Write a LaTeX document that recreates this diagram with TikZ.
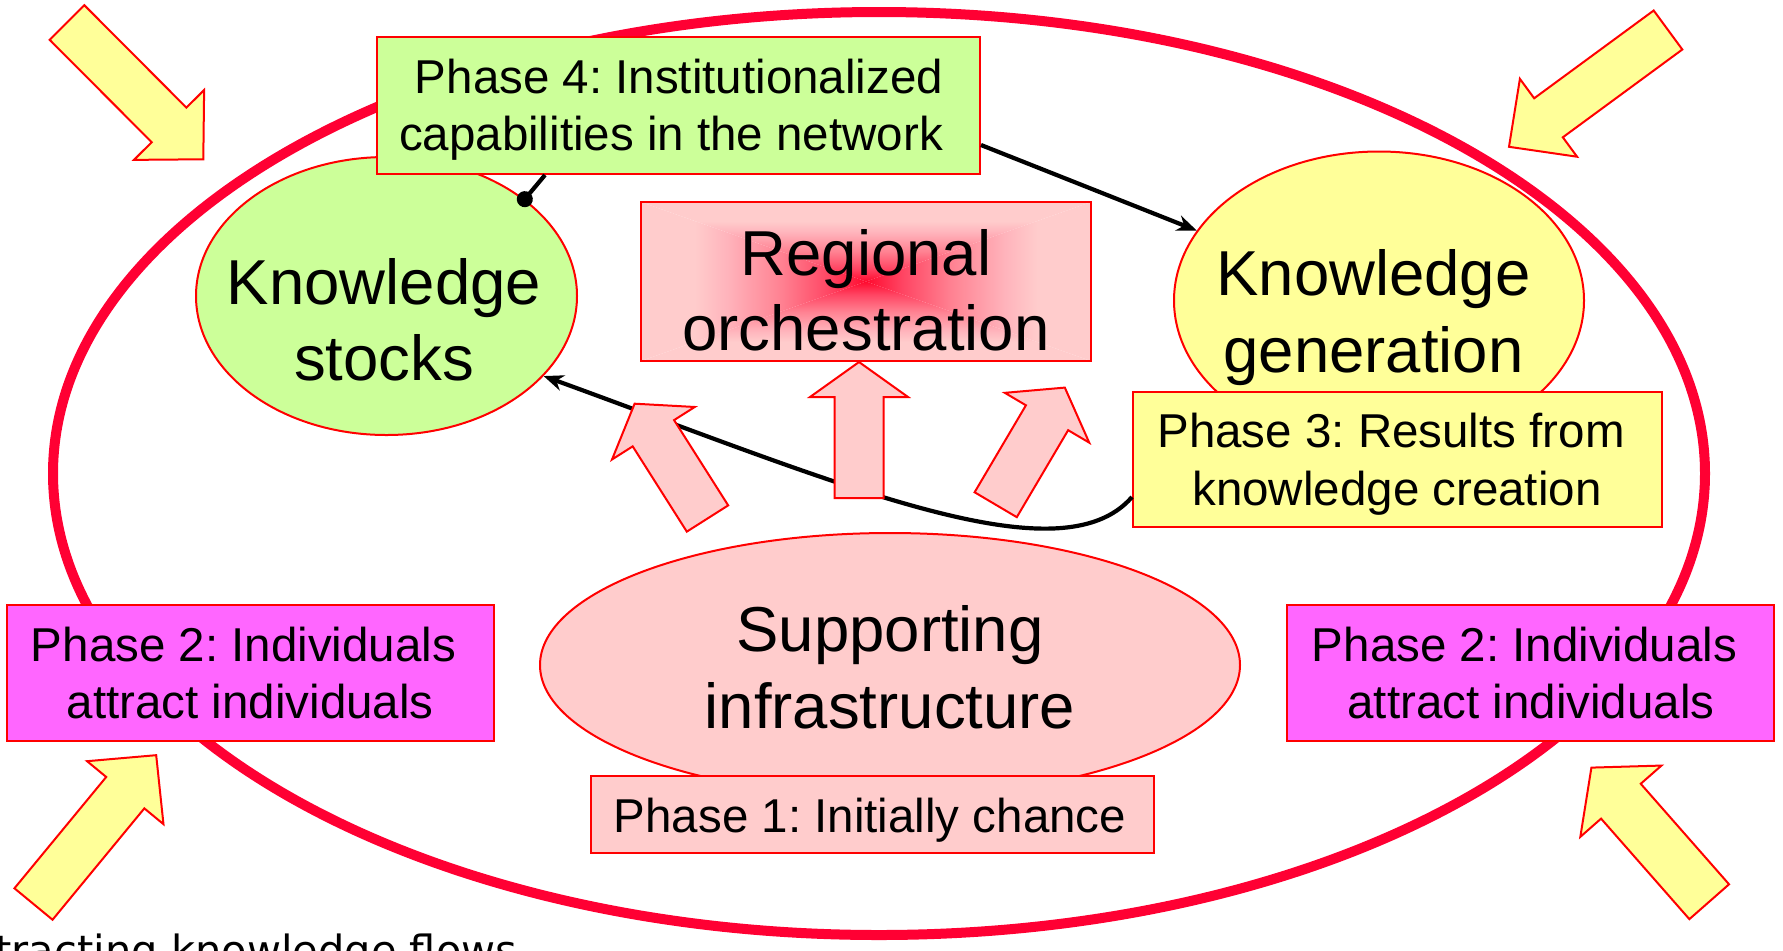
\documentclass[tikz,border=0pt]{standalone}
\usepackage{fontspec}
\setmainfont{Liberation Sans}
\newfontfamily\dejavu{DejaVu Sans}
\usetikzlibrary{shapes.geometric,arrows.meta,calc}
\frenchspacing
\definecolor{ringred}{HTML}{FF0033}
\definecolor{edgered}{HTML}{FF0000}
\definecolor{greenf}{HTML}{CCFF99}
\definecolor{yellowf}{HTML}{FFFF99}
\definecolor{pinkf}{HTML}{FFCCCC}
\definecolor{magf}{HTML}{FF66FF}
\definecolor{shadeA}{HTML}{FFB4BC}
\definecolor{shadeB}{HTML}{FF8292}
\definecolor{shadeC}{HTML}{FF4462}
\definecolor{hotred}{HTML}{FF0A2E}
\pgfdeclarehorizontalshading{roshade}{100bp}{color(0bp)=(pinkf); color(25bp)=(pinkf); color(37bp)=(pinkf); color(44bp)=(shadeA); color(56bp)=(shadeB); color(67bp)=(shadeC); color(75bp)=(hotred); color(100bp)=(hotred)}
% style, x, y, angle, shaft length, head length, half shaft width, half head width
\newcommand\blockarr[8]{\draw[#1,shift={(#2,#3)},rotate=#4] (0,-#7) -- (#5,-#7) -- (#5,-#8) -- ({#5+#6},0) -- (#5,#8) -- (#5,#7) -- (0,#7) -- cycle;}
\begin{document}
\begin{tikzpicture}[x=0.5pt,y=-0.5pt,
  shapeline/.style={draw=edgered,line width=1pt},
  ell/.style={shapeline,ellipse,inner sep=0pt},
  box/.style={shapeline,rectangle,inner sep=0pt},
  big/.style={inner sep=0pt,anchor=base,font=\fontsize{31.75pt}{38pt}\selectfont},
  small/.style={inner sep=0pt,anchor=base,font=\fontsize{23.75pt}{28.5pt}\selectfont},
  conn/.style={line width=2.1pt,black},
  pinkarrow/.style={fill=pinkf,draw=edgered,line width=1pt},
  yelarrow/.style={fill=yellowf,draw=edgered,line width=1pt}]
\useasboundingbox (0,0) rectangle (1783,950);

% ellipses
\node[ell,fill=greenf,minimum width=190.5pt,minimum height=139pt] (ks) at (386.5,296) {};
\node[ell,fill=yellowf,minimum width=205pt,minimum height=149pt] (kg) at (1379,300.5) {};
\node[ell,fill=pinkf,minimum width=350pt,minimum height=132pt] (si) at (890,665) {};

% big ring
\draw[ringred,line width=5pt] (879,473.5) ellipse [x radius=826, y radius=461.5];

% boxes
\node[box,fill=greenf,minimum width=301.5pt,minimum height=68.5pt] (p4) at (678.5,105.5) {};

\coordinate (rotl) at (641,202);
\coordinate (rotr) at (1091,202);
\coordinate (robl) at (641,361);
\coordinate (robr) at (1091,361);
\coordinate (roc) at (866,281.5);
\shade[shading=roshade,shading angle=0] (roc) -- (rotl) -- (robl) -- cycle;
\shade[shading=roshade,shading angle=180] (roc) -- (rotr) -- (robr) -- cycle;
\shade[shading=roshade,shading angle=-90] (roc) -- (rotl) -- (rotr) -- cycle;
\shade[shading=roshade,shading angle=90] (roc) -- (robl) -- (robr) -- cycle;
\node[box,minimum width=225pt,minimum height=79.5pt] (ro) at (866,281.5) {};

\node[box,fill=yellowf,minimum width=264.5pt,minimum height=67.5pt] (p3) at (1397.5,459.5) {};
\node[box,fill=magf,minimum width=243.5pt,minimum height=68pt] (p2l) at (250.5,673) {};
\node[box,fill=magf,minimum width=243.5pt,minimum height=68pt] (p2r) at (1530.5,673) {};
\node[box,fill=pinkf,minimum width=281.5pt,minimum height=38.5pt] (p1) at (872.5,814.5) {};

% texts
\node[small] (t4a) at (679,93.3) {Phase 4: Institutionalized};
\node[small] (t4b) at (671,150) {capabilities in the network};
\node[big] (tks1) at (384,304) {Knowledge};
\node[big] (tks2) at (384,380) {stocks};
\node[big] (tro1) at (866,275) {Regional};
\node[big] (tro2) at (866,350) {orchestration};
\node[big] (tkg1) at (1373.5,295) {Knowledge};
\node[big] (tkg2) at (1373.5,372) {generation};
\node[small] (t3a) at (1391,447) {Phase 3: Results from};
\node[small] (t3b) at (1397,505) {knowledge creation};
\node[small] (t2la) at (243.5,661.7) {Phase 2: Individuals};
\node[small] (t2lb) at (250.3,718) {attract individuals};
\node[small] (t2ra) at (1524.5,661.7) {Phase 2: Individuals};
\node[small] (t2rb) at (1531,718) {attract individuals};
\node[big] (tsi1) at (890,651.7) {Supporting};
\node[big] (tsi2) at (890,728) {infrastructure};
\node[small] (t1) at (870,832.7) {Phase 1: Initially chance};

% connectors
\draw[conn,-{Circle[length=8pt]},shorten >=-4pt] ($(p4.south)+(-133.5,0)$) -- (ks.35);
\draw[conn,-{Stealth[length=10pt,width=8pt]}] ($(p4.east)+(0,39.5)$) -- (kg.159);
\draw[conn,-{Stealth[length=10pt,width=8pt]}] ($(p3.west)+(0,37.5)$) .. controls (1060,580) and (843,485) .. (ks.-27.4);

% pink block arrows
\blockarr{pinkarrow}{707.5}{518.5}{122.4}{101}{35}{24.5}{49}
\blockarr{pinkarrow}{859}{498}{90}{101}{35}{24.5}{49}
\blockarr{pinkarrow}{995.7}{504.7}{59.45}{101}{35}{24.5}{49}

% yellow block arrows
\blockarr{yelarrow}{67}{22.5}{-45.1}{144.6}{48.5}{24.5}{49.5}
\blockarr{yelarrow}{1668}{30}{216.3}{148.3}{49}{24.2}{48.3}
\blockarr{yelarrow}{33.5}{904}{50.5}{144.3}{48.6}{24.7}{49.5}
\blockarr{yelarrow}{1709.2}{901.7}{131.3}{133.8}{44.7}{26.4}{54}

% cut-off caption (cut by the picture's lower edge, as in the reference)
\node[inner sep=0pt,anchor=base west,font=\dejavu\fontsize{20.8pt}{25pt}\selectfont] (att) at (-49,965) {Attracting knowledge flows};
\end{tikzpicture}
\end{document}
